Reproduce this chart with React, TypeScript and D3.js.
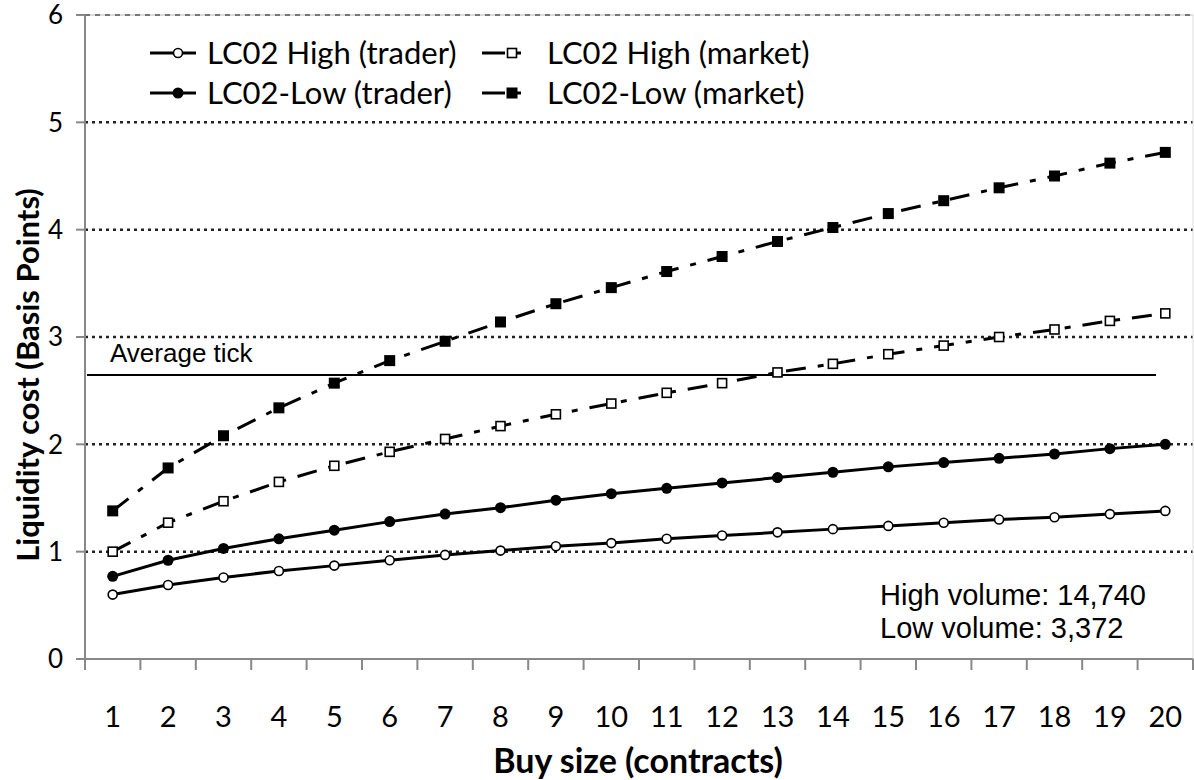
import React from "react";
import * as d3 from "d3";

const categories = ["1","2","3","4","5","6","7","8","9","10","11","12","13","14","15","16","17","18","19","20"];
const highTrader = [0.60,0.69,0.76,0.82,0.87,0.92,0.97,1.01,1.05,1.08,1.12,1.15,1.18,1.21,1.24,1.27,1.30,1.32,1.35,1.38];
const highMarket = [1.00,1.27,1.47,1.65,1.80,1.93,2.05,2.17,2.28,2.38,2.48,2.57,2.67,2.75,2.84,2.92,3.00,3.07,3.15,3.22];
const lowTrader = [0.77,0.92,1.03,1.12,1.20,1.28,1.35,1.41,1.48,1.54,1.59,1.64,1.69,1.74,1.79,1.83,1.87,1.91,1.96,2.00];
const lowMarket = [1.38,1.78,2.08,2.34,2.57,2.78,2.96,3.14,3.31,3.46,3.61,3.75,3.89,4.02,4.15,4.27,4.39,4.50,4.62,4.72];
const yTicks = [0,1,2,3,4,5,6];
const averageTick = 2.646;

type Series = { name: string; values: number[]; marker: "circle" | "square"; filled: boolean; dashed: boolean };
const series: Series[] = [
  { name: "LC02 High (trader)", values: highTrader, marker: "circle", filled: false, dashed: false },
  { name: "LC02 High (market)", values: highMarket, marker: "square", filled: false, dashed: true },
  { name: "LC02-Low (trader)", values: lowTrader, marker: "circle", filled: true, dashed: false },
  { name: "LC02-Low (market)", values: lowMarket, marker: "square", filled: true, dashed: true },
];

const W = 1194, H = 780;
const L = 85, R = 1193, T = 15, B = 659;
const DASH = "20,12,6,12";
const CAL = "Lato, Carlito, sans-serif";
const ARIAL = "'Liberation Sans', Arial, sans-serif";

function Marker({ s, x, y }: { s: Series; x: number; y: number }) {
  if (s.marker === "circle") {
    return s.filled
      ? <circle cx={x} cy={y} r={5.5} fill="#000" />
      : <circle cx={x} cy={y} r={4.5} fill="#fff" stroke="#000" strokeWidth={1.6} />;
  }
  return s.filled
    ? <rect x={x - 5.5} y={y - 5.5} width={11} height={11} fill="#000" />
    : <rect x={x - 4.5} y={y - 4.5} width={9} height={9} fill="#fff" stroke="#000" strokeWidth={1.6} />;
}

export default function App() {
  const x = d3.scaleBand<string>().domain(categories).range([L, R]).padding(0);
  const cx = (c: string) => (x(c) as number) + x.bandwidth() / 2;
  const y = d3.scaleLinear().domain([0, 6]).range([B, T]);
  const line = d3.line<number>().x((_, i) => cx(categories[i])).y((v) => y(v));

  const legendPos = [
    { lx: 150, ly: 53 },
    { lx: 482, ly: 53 },
    { lx: 150, ly: 93 },
    { lx: 482, ly: 93 },
  ];

  return (
    <svg width={W} height={H} style={{ position: "absolute", left: 0, top: 0, background: "#fff" }}>
      {/* gridlines */}
      {yTicks.filter((t) => t > 0 && t < 6).map((t) => (
        <line key={t} x1={L} x2={R} y1={y(t)} y2={y(t)} stroke="#222" strokeWidth={2.5} strokeDasharray="3,4" />
      ))}
      {/* top border */}
      <line x1={L} x2={R} y1={y(6)} y2={y(6)} stroke="#bbb" strokeWidth={1} />
      <line x1={L} x2={R} y1={y(6)} y2={y(6)} stroke="#777" strokeWidth={2} strokeDasharray="5,5" />
      {/* right border */}
      <line x1={R} x2={R} y1={T} y2={B} stroke="#ddd" strokeWidth={1} />
      {/* axes */}
      <line x1={L} x2={L} y1={T} y2={B} stroke="#888" strokeWidth={2} />
      <line x1={L} x2={R} y1={B} y2={B} stroke="#888" strokeWidth={2} />
      {yTicks.map((t) => (
        <g key={t}>
          <line x1={76} x2={L} y1={y(t)} y2={y(t)} stroke="#888" strokeWidth={2} />
          <text x={63} y={y(t)} dy="0.36em" textAnchor="end" fontFamily={CAL} fontSize={26} fill="#000">{t}</text>
        </g>
      ))}
      {categories.map((c) => (
        <line key={c} x1={(x(c) as number)} x2={(x(c) as number)} y1={B} y2={B + 11} stroke="#888" strokeWidth={2} />
      ))}
      <line x1={R} x2={R} y1={B} y2={B + 11} stroke="#888" strokeWidth={2} />
      {categories.map((c) => (
        <text key={c} x={cx(c)} y={727} textAnchor="middle" fontFamily={CAL} fontSize={29} fill="#000">{c}</text>
      ))}
      {/* axis titles */}
      <text x={638} y={773} textAnchor="middle" fontFamily={CAL} fontWeight="bold" fontSize={34} fill="#000">Buy size (contracts)</text>
      <text transform={`translate(39,${375}) rotate(-90)`} textAnchor="middle" fontFamily={CAL} fontWeight="bold" fontSize={31} fill="#000">Liquidity cost (Basis Points)</text>
      {/* average tick */}
      <line x1={87} x2={1156} y1={y(averageTick)} y2={y(averageTick)} stroke="#000" strokeWidth={2} />
      <text x={110} y={362} fontFamily={ARIAL} fontSize={26} fill="#000">Average tick</text>
      {/* series */}
      {series.map((s) => (
        <g key={s.name}>
          <path d={line(s.values) as string} fill="none" stroke="#000" strokeWidth={3} strokeDasharray={s.dashed ? DASH : undefined} />
          {s.values.map((v, i) => <Marker key={i} s={s} x={cx(categories[i])} y={y(v)} />)}
        </g>
      ))}
      {/* legend */}
      {series.map((s, i) => {
        const p = legendPos[i];
        return (
          <g key={s.name}>
            <line x1={p.lx} x2={p.lx + 46} y1={p.ly} y2={p.ly} stroke="#000" strokeWidth={3} strokeDasharray={s.dashed ? "23,9,7,20" : undefined} />
            <Marker s={s} x={p.lx + (s.dashed ? 30 : 28)} y={p.ly} />
            <text x={p.lx + (s.dashed ? 65 : 57)} y={p.ly} dy="0.36em" fontFamily={CAL} fontSize={31} fill="#000">{s.name}</text>
          </g>
        );
      })}
      {/* volume annotation */}
      <text x={880} y={605} fontFamily={ARIAL} fontSize={29} fill="#000">High volume: 14,740</text>
      <text x={880} y={638} fontFamily={ARIAL} fontSize={29} fill="#000">Low volume: 3,372</text>
    </svg>
  );
}
